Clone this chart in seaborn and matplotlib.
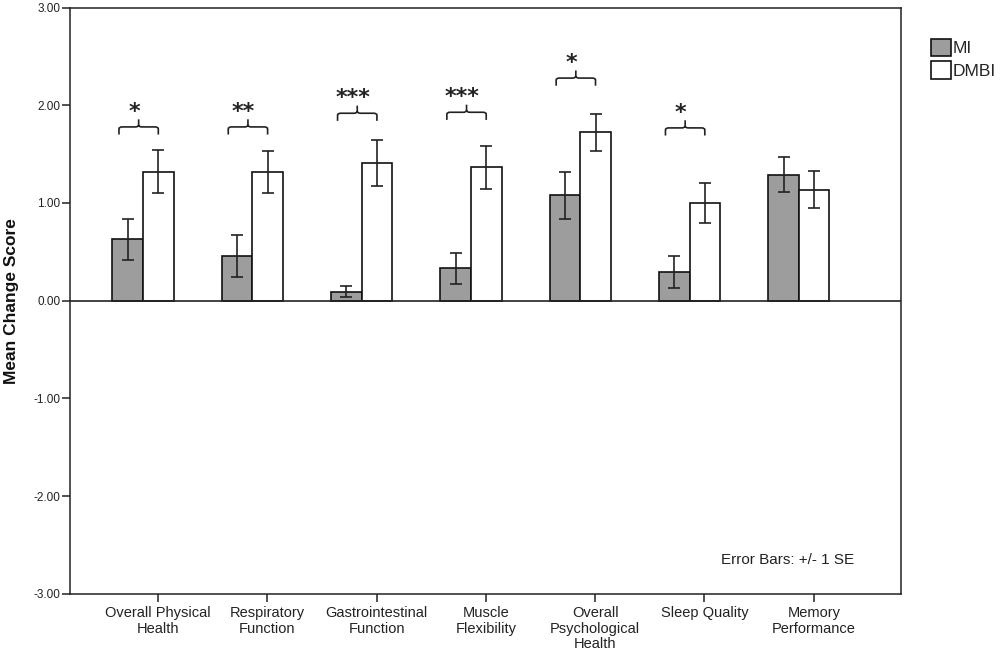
import numpy as np
import pandas as pd
import matplotlib
matplotlib.use("Agg")
import matplotlib.pyplot as plt
from matplotlib.path import Path
from matplotlib.patches import PathPatch
import seaborn as sns

# ---------------- data ----------------
categories = ["Overall Physical\nHealth", "Respiratory\nFunction",
              "Gastrointestinal\nFunction", "Muscle\nFlexibility",
              "Overall\nPsychological\nHealth", "Sleep Quality",
              "Memory\nPerformance"]
groups = ["MI", "DMBI"]
mi_mean = [0.63, 0.46, 0.09, 0.33, 1.08, 0.29, 1.29]
mi_se = [0.21, 0.215, 0.055, 0.155, 0.24, 0.165, 0.178]
dmbi_mean = [1.32, 1.32, 1.41, 1.365, 1.725, 1.00, 1.135]
dmbi_se = [0.22, 0.215, 0.235, 0.22, 0.19, 0.207, 0.19]
sig_labels = ["*", "**", "***", "***", "*", "*", ""]
bracket_y = [1.70, 1.70, 1.84, 1.85, 2.20, 1.69, None]
yticks = [-3.0, -2.0, -1.0, 0.0, 1.0, 2.0, 3.0]

df = pd.DataFrame({
    "category": categories * 2,
    "group": [groups[0]] * len(categories) + [groups[1]] * len(categories),
    "value": mi_mean + dmbi_mean,
})
se_by_group = [mi_se, dmbi_se]

# ---------------- style ----------------
sns.set_theme(style="white")
plt.rcParams["font.family"] = ["Liberation Sans", "DejaVu Sans"]

fig = plt.figure(figsize=(10, 6.55), dpi=100)
ax = fig.add_axes([0.070, 0.0935, 0.831, 0.895])

sns.barplot(data=df, x="category", y="value", hue="group",
            order=categories, hue_order=groups,
            palette={"MI": "#9d9d9d", "DMBI": "#ffffff"},
            edgecolor="#111111", linewidth=1.2, width=0.56,
            errorbar=None, ax=ax, legend=False)

# error bars from the bar geometry
for cont, ses in zip(ax.containers, se_by_group):
    xs = [b.get_x() + b.get_width() / 2 for b in cont]
    hs = [b.get_height() for b in cont]
    ax.errorbar(xs, hs, yerr=ses, fmt="none", ecolor="#222222",
                elinewidth=1.2, capsize=4, capthick=1.2, zorder=5)

# zero line
ax.axhline(0, color="#222222", lw=1.2, zorder=4)

# limits / ticks
ax.set_ylim(-3, 3)
ax.set_xlim(-0.668, 6.935)
ax.set_yticks(yticks)
ax.set_yticklabels([f"{v:.2f}" for v in yticks], fontsize=8.5, color="#222222")
pos = np.arange(len(categories))
ax.set_xticks(pos + 0.137)
ax.set_xticklabels(categories, fontsize=10.5,
                   color="#222222", linespacing=1.12, va="top")
ax.tick_params(axis="both", which="major", direction="out", length=6,
               width=1.1, color="#222222", bottom=True, left=True)
ax.tick_params(axis="x", pad=3)
ax.tick_params(axis="y", pad=1)
for sp in ax.spines.values():
    sp.set_color("#222222")
    sp.set_linewidth(1.1)
ax.set_xlabel("")
ax.set_ylabel("Mean Change Score", fontsize=12.5, fontweight="bold",
              color="#111111")
ax.yaxis.set_label_coords(-0.061, 0.5)

# significance brackets
for i, (lab, by) in enumerate(zip(sig_labels, bracket_y)):
    if not lab or by is None:
        continue
    xl, xr = i - 0.22, i + 0.14
    xc = (xl + xr) / 2
    h = 0.078
    r = 0.03
    verts = [
        (xl, by), (xl, by + h - 0.02), (xl, by + h), (xl + r, by + h),
        (xc - r, by + h), (xc, by + h), (xc, by + h + 0.02), (xc, by + 2 * h),
        (xc, by + h + 0.02), (xc, by + h), (xc + r, by + h),
        (xr - r, by + h), (xr, by + h), (xr, by + h - 0.02), (xr, by),
    ]
    codes = [Path.MOVETO, Path.LINETO, Path.CURVE3, Path.CURVE3,
             Path.LINETO, Path.CURVE3, Path.CURVE3, Path.LINETO,
             Path.MOVETO, Path.CURVE3, Path.CURVE3,
             Path.LINETO, Path.CURVE3, Path.CURVE3, Path.LINETO]
    ax.add_patch(PathPatch(Path(verts, codes), fill=False, lw=1.2,
                           edgecolor="#222222", zorder=6))
    ax.annotate(lab, xy=(xc - 0.04, by + 0.30), xytext=(0, -9),
                textcoords="offset points", ha="center", va="baseline",
                fontsize=16, family="DejaVu Sans", fontweight="bold",
                color="#222222")

# footnote
ax.text(0.944, 0.057, "Error Bars: +/- 1 SE", transform=ax.transAxes,
        ha="right", va="center", fontsize=11, color="#222222")

# legend
handles = [ax.containers[0][0], ax.containers[1][0]]
fig.legend(handles, groups, loc="upper left", bbox_to_anchor=(0.931, 0.941),
           frameon=False, borderpad=0, borderaxespad=0, handlelength=1.15,
           handleheight=1.15, handletextpad=0.12, labelspacing=0.3,
           prop={"size": 12.5})

fig.savefig("out.png", dpi=100, facecolor="white")
